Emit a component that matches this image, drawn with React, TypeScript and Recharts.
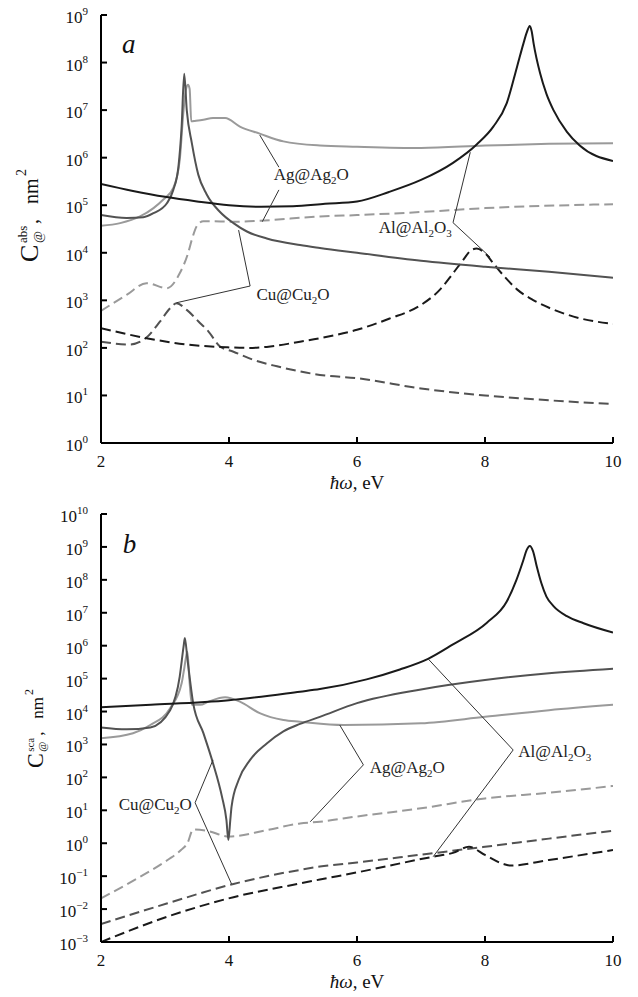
import React from 'react';
import { LineChart, Line, XAxis, YAxis, ReferenceLine, ReferenceDot } from 'recharts';

type P = { e: number; v: number };

// ---------- axis ticks ----------
const energyTicks = [2, 4, 6, 8, 10];
const innerEnergyTicks = [4, 6, 8];
const absTicks = [1e0, 1e1, 1e2, 1e3, 1e4, 1e5, 1e6, 1e7, 1e8, 1e9];
const scaTicks = [1e-3, 1e-2, 1e-1, 1e0, 1e1, 1e2, 1e3, 1e4, 1e5, 1e6, 1e7, 1e8, 1e9, 1e10];

// ---------- panel a : absorption ----------
const absAlSolid: P[] = [
  { e: 2.0, v: 2.8e5 }, { e: 2.5, v: 2.0e5 }, { e: 3.0, v: 1.5e5 }, { e: 3.5, v: 1.2e5 },
  { e: 4.0, v: 1.0e5 }, { e: 4.5, v: 9.3e4 }, { e: 5.0, v: 9.5e4 }, { e: 5.5, v: 1.07e5 },
  { e: 6.0, v: 1.2e5 }, { e: 6.5, v: 1.9e5 }, { e: 7.0, v: 3.4e5 }, { e: 7.5, v: 7.8e5 },
  { e: 7.87, v: 1.9e6 }, { e: 8.13, v: 4.5e6 }, { e: 8.34, v: 1.4e7 }, { e: 8.5, v: 8.1e7 },
  { e: 8.6, v: 2.5e8 }, { e: 8.65, v: 4.2e8 }, { e: 8.7, v: 5.9e8 }, { e: 8.73, v: 4.5e8 },
  { e: 8.76, v: 2.5e8 }, { e: 8.86, v: 6.0e7 }, { e: 8.96, v: 2.2e7 }, { e: 9.07, v: 1.0e7 },
  { e: 9.28, v: 3.5e6 }, { e: 9.48, v: 1.8e6 }, { e: 10.0, v: 8.5e5 },
];
const absCuSolid: P[] = [
  { e: 2.0, v: 6.2e4 }, { e: 2.4, v: 5.4e4 }, { e: 2.66, v: 5.6e4 }, { e: 2.82, v: 6.8e4 },
  { e: 3.03, v: 1.1e5 }, { e: 3.13, v: 2.1e5 }, { e: 3.21, v: 6.5e5 }, { e: 3.26, v: 4.5e6 },
  { e: 3.3, v: 5.8e7 }, { e: 3.34, v: 1.0e7 }, { e: 3.42, v: 2.0e6 }, { e: 3.52, v: 4.4e5 },
  { e: 3.65, v: 1.7e5 }, { e: 3.86, v: 7.2e4 }, { e: 4.07, v: 4.2e4 }, { e: 4.28, v: 2.8e4 },
  { e: 4.59, v: 2.0e4 }, { e: 5.11, v: 1.45e4 }, { e: 5.42, v: 1.26e4 }, { e: 6.0, v: 1.0e4 },
  { e: 7.0, v: 6.8e3 }, { e: 8.0, v: 5.1e3 }, { e: 9.0, v: 4.0e3 }, { e: 10.0, v: 3.0e3 },
];
const absAgSolid: P[] = [
  { e: 2.0, v: 3.7e4 }, { e: 2.3, v: 4.2e4 }, { e: 2.61, v: 5.8e4 }, { e: 2.82, v: 8.7e4 },
  { e: 2.97, v: 1.3e5 }, { e: 3.13, v: 2.3e5 }, { e: 3.23, v: 8.9e5 }, { e: 3.29, v: 1.0e7 },
  { e: 3.33, v: 2.8e7 }, { e: 3.36, v: 3.4e7 }, { e: 3.385, v: 2.8e7 }, { e: 3.41, v: 5.8e6 },
  { e: 3.45, v: 5.9e6 }, { e: 3.6, v: 6.3e6 }, { e: 3.75, v: 6.8e6 }, { e: 3.94, v: 6.8e6 },
  { e: 4.17, v: 4.5e6 }, { e: 4.48, v: 3.2e6 }, { e: 4.85, v: 2.2e6 }, { e: 5.42, v: 1.8e6 },
  { e: 6.0, v: 1.7e6 }, { e: 7.0, v: 1.6e6 }, { e: 8.0, v: 1.8e6 }, { e: 9.0, v: 1.95e6 },
  { e: 10.0, v: 2.0e6 },
];
const absAlDash: P[] = [
  { e: 2.0, v: 260 }, { e: 2.71, v: 160 }, { e: 3.33, v: 118 }, { e: 3.96, v: 103 },
  { e: 4.3, v: 100 }, { e: 4.59, v: 105 }, { e: 5.11, v: 135 }, { e: 5.42, v: 160 },
  { e: 6.0, v: 240 }, { e: 6.5, v: 410 }, { e: 7.0, v: 800 }, { e: 7.3, v: 1.7e3 },
  { e: 7.5, v: 3.7e3 }, { e: 7.66, v: 7.1e3 }, { e: 7.79, v: 1.15e4 }, { e: 7.87, v: 1.23e4 },
  { e: 8.0, v: 9.8e3 }, { e: 8.13, v: 6.0e3 }, { e: 8.3, v: 3.2e3 }, { e: 8.5, v: 1.7e3 },
  { e: 8.76, v: 1.0e3 }, { e: 9.02, v: 680 }, { e: 9.48, v: 420 }, { e: 10.0, v: 320 },
];
const absCuDash: P[] = [
  { e: 2.0, v: 135 }, { e: 2.45, v: 118 }, { e: 2.71, v: 165 }, { e: 2.92, v: 355 },
  { e: 3.08, v: 680 }, { e: 3.18, v: 870 }, { e: 3.34, v: 630 }, { e: 3.55, v: 330 },
  { e: 3.68, v: 220 }, { e: 3.86, v: 107 }, { e: 4.07, v: 83 }, { e: 4.38, v: 56 },
  { e: 4.75, v: 41 }, { e: 5.11, v: 32 }, { e: 5.42, v: 27 }, { e: 6.0, v: 23 },
  { e: 7.0, v: 14 }, { e: 8.0, v: 10 }, { e: 9.0, v: 7.9 }, { e: 10.0, v: 6.6 },
];
const absAgDash: P[] = [
  { e: 2.0, v: 600 }, { e: 2.4, v: 1.3e3 }, { e: 2.71, v: 2.3e3 }, { e: 3.03, v: 1.8e3 },
  { e: 3.23, v: 3.7e3 }, { e: 3.36, v: 9.8e3 }, { e: 3.42, v: 1.9e4 }, { e: 3.5, v: 3.7e4 },
  { e: 3.6, v: 4.6e4 }, { e: 4.14, v: 4.5e4 }, { e: 4.48, v: 4.7e4 }, { e: 5.42, v: 5.8e4 },
  { e: 6.0, v: 6.2e4 }, { e: 7.0, v: 7.2e4 }, { e: 8.0, v: 8.7e4 }, { e: 10.0, v: 1.05e5 },
];

// ---------- panel b : scattering ----------
const scaAlSolid: P[] = [
  { e: 2.0, v: 1.35e4 }, { e: 2.78, v: 1.6e4 }, { e: 4.0, v: 2.2e4 }, { e: 5.11, v: 4.0e4 },
  { e: 5.42, v: 4.8e4 }, { e: 6.15, v: 9.5e4 }, { e: 6.67, v: 1.9e5 }, { e: 7.11, v: 4.0e5 },
  { e: 7.5, v: 1.1e6 }, { e: 8.03, v: 5.0e6 }, { e: 8.34, v: 2.2e7 }, { e: 8.49, v: 9.8e7 },
  { e: 8.6, v: 4.0e8 }, { e: 8.65, v: 8.0e8 }, { e: 8.7, v: 1.07e9 }, { e: 8.75, v: 7.5e8 },
  { e: 8.81, v: 2.5e8 }, { e: 8.88, v: 8.0e7 }, { e: 8.96, v: 3.1e7 }, { e: 9.07, v: 1.6e7 },
  { e: 9.28, v: 7.9e6 }, { e: 9.54, v: 4.8e6 }, { e: 10.0, v: 2.5e6 },
];
const scaCuSolid: P[] = [
  { e: 2.0, v: 3.3e3 }, { e: 2.4, v: 2.9e3 }, { e: 2.77, v: 3.3e3 }, { e: 3.08, v: 1.1e4 },
  { e: 3.23, v: 1.15e5 }, { e: 3.29, v: 9.3e5 }, { e: 3.31, v: 1.7e6 }, { e: 3.35, v: 4.0e5 },
  { e: 3.44, v: 1.8e4 }, { e: 3.6, v: 2.2e3 }, { e: 3.75, v: 270 }, { e: 3.89, v: 26 },
  { e: 3.96, v: 5 }, { e: 3.99, v: 1.25 }, { e: 4.02, v: 5 }, { e: 4.04, v: 13 },
  { e: 4.15, v: 83 }, { e: 4.33, v: 340 }, { e: 4.59, v: 1.07e3 }, { e: 4.85, v: 2.5e3 },
  { e: 5.11, v: 4.2e3 }, { e: 5.42, v: 6.9e3 }, { e: 6.0, v: 1.8e4 }, { e: 7.0, v: 4.7e4 },
  { e: 8.0, v: 9.1e4 }, { e: 9.0, v: 1.45e5 }, { e: 10.0, v: 2.0e5 },
];
const scaAgSolid: P[] = [
  { e: 2.0, v: 1.55e3 }, { e: 2.5, v: 2.2e3 }, { e: 2.77, v: 3.9e3 }, { e: 3.08, v: 1.26e4 },
  { e: 3.26, v: 7.2e4 }, { e: 3.3, v: 2.0e5 }, { e: 3.35, v: 6.6e5 }, { e: 3.38, v: 1.0e5 },
  { e: 3.42, v: 1.6e4 }, { e: 3.55, v: 1.6e4 }, { e: 3.68, v: 2.0e4 }, { e: 3.94, v: 2.7e4 },
  { e: 4.17, v: 2.0e4 }, { e: 4.48, v: 8.9e3 }, { e: 4.85, v: 5.5e3 }, { e: 5.11, v: 4.9e3 },
  { e: 5.79, v: 3.9e3 }, { e: 7.0, v: 4.4e3 }, { e: 8.0, v: 6.9e3 }, { e: 9.0, v: 1.1e4 },
  { e: 10.0, v: 1.6e4 },
];
const scaAlDash: P[] = [
  { e: 2.0, v: 0.001 }, { e: 3.04, v: 0.0059 }, { e: 4.07, v: 0.023 }, { e: 5.11, v: 0.06 },
  { e: 5.42, v: 0.079 }, { e: 6.0, v: 0.13 }, { e: 7.0, v: 0.33 }, { e: 7.19, v: 0.39 },
  { e: 7.5, v: 0.51 }, { e: 7.75, v: 0.78 }, { e: 8.0, v: 0.44 }, { e: 8.3, v: 0.23 },
  { e: 8.4, v: 0.21 }, { e: 9.0, v: 0.31 }, { e: 10.0, v: 0.62 },
];
const scaCuDash: P[] = [
  { e: 2.0, v: 0.0035 }, { e: 3.04, v: 0.015 }, { e: 4.07, v: 0.058 }, { e: 5.11, v: 0.155 },
  { e: 5.42, v: 0.195 }, { e: 6.0, v: 0.26 }, { e: 7.0, v: 0.45 }, { e: 8.0, v: 0.78 },
  { e: 9.0, v: 1.38 }, { e: 10.0, v: 2.4 },
];
const scaAgDash: P[] = [
  { e: 2.0, v: 0.021 }, { e: 2.52, v: 0.076 }, { e: 3.04, v: 0.31 }, { e: 3.25, v: 0.62 },
  { e: 3.35, v: 1.0 }, { e: 3.44, v: 2.6 }, { e: 3.65, v: 2.4 }, { e: 4.0, v: 1.6 },
  { e: 4.59, v: 2.5 }, { e: 5.11, v: 4.0 }, { e: 5.42, v: 4.5 }, { e: 6.0, v: 6.5 },
  { e: 7.0, v: 11.5 }, { e: 8.0, v: 23 }, { e: 9.0, v: 34 }, { e: 10.0, v: 55 },
];

// ---------- annotations (data coordinates) ----------
type Anno = { text: string; e: number; v: number; anchor: 'start' | 'end'; lines: P[][] };
const absAnnotations: Anno[] = [
  { text: 'Ag@Ag_2O', e: 4.7, v: 3.4e5, anchor: 'start',
    lines: [[{ e: 4.48, v: 3.0e6 }, { e: 4.78, v: 6.3e5 }], [{ e: 4.52, v: 4.5e4 }, { e: 4.78, v: 2.1e5 }]] },
  { text: 'Al@Al_2O_3', e: 7.48, v: 2.6e4, anchor: 'end',
    lines: [[{ e: 7.77, v: 1.3e6 }, { e: 7.5, v: 4.3e4 }], [{ e: 7.5, v: 4.3e4 }, { e: 8.08, v: 8.1e3 }]] },
  { text: 'Cu@Cu_2O', e: 4.43, v: 1.0e3, anchor: 'start',
    lines: [[{ e: 4.15, v: 3.0e4 }, { e: 4.33, v: 2.0e3 }], [{ e: 4.33, v: 2.0e3 }, { e: 3.18, v: 890 }]] },
];
const scaAnnotations: Anno[] = [
  { text: 'Cu@Cu_2O', e: 3.42, v: 10, anchor: 'end',
    lines: [[{ e: 3.47, v: 17 }, { e: 3.75, v: 340 }], [{ e: 3.47, v: 17 }, { e: 4.04, v: 0.058 }]] },
  { text: 'Ag@Ag_2O', e: 6.2, v: 135, anchor: 'start',
    lines: [[{ e: 6.1, v: 240 }, { e: 5.73, v: 3.9e3 }], [{ e: 6.1, v: 240 }, { e: 5.27, v: 4.5 }]] },
  { text: 'Al@Al_2O_3', e: 8.52, v: 430, anchor: 'start',
    lines: [[{ e: 8.44, v: 680 }, { e: 7.11, v: 4.0e5 }], [{ e: 8.44, v: 680 }, { e: 7.19, v: 0.39 }]] },
];
const absTag = { text: 'a', e: 2.33, v: 1.6e8 };
const scaTag = { text: 'b', e: 2.34, v: 6.6e8 };

// ---------- styles ----------
const FONT = '"Liberation Serif", "Times New Roman", serif';
const AL = '#1a1a1a';
const CU = '#525252';
const AG = '#9a9a9a';
const DASH = '10 5';

type Series = { data: P[]; color: string; dashed?: boolean };
const absSeries: Series[] = [
  { data: absAgDash, color: AG, dashed: true },
  { data: absCuDash, color: CU, dashed: true },
  { data: absAlDash, color: AL, dashed: true },
  { data: absAgSolid, color: AG },
  { data: absCuSolid, color: CU },
  { data: absAlSolid, color: AL },
];
const scaSeries: Series[] = [
  { data: scaAgDash, color: AG, dashed: true },
  { data: scaCuDash, color: CU, dashed: true },
  { data: scaAlDash, color: AL, dashed: true },
  { data: scaAgSolid, color: AG },
  { data: scaCuSolid, color: CU },
  { data: scaAlSolid, color: AL },
];

const PowTick = (props: any) => {
  const { x, y, payload } = props;
  const exp = Math.round(Math.log10(payload.value));
  const expText = exp < 0 ? '\u2212' + Math.abs(exp) : String(exp);
  return (
    <text x={x} y={y + 8} textAnchor="end" fontFamily={FONT} fontSize={17} fill="#111">
      <tspan>10</tspan>
      <tspan fontSize={11} dy={-8}>{expText}</tspan>
    </text>
  );
};

const XTick = (props: any) => {
  const { x, y, payload } = props;
  return (
    <text x={x} y={y + 11} textAnchor="middle" fontFamily={FONT} fontSize={17} fill="#111">
      {payload.value}
    </text>
  );
};

const RichText = ({ x, y, text, anchor }: { x: number; y: number; text: string; anchor: string }) => {
  const parts: { s: string; sub: boolean }[] = [];
  let i = 0;
  while (i < text.length) {
    if (text[i] === '_') {
      parts.push({ s: text[i + 1], sub: true });
      i += 2;
    } else {
      let j = i;
      while (j < text.length && text[j] !== '_') j++;
      parts.push({ s: text.slice(i, j), sub: false });
      i = j;
    }
  }
  let prevSub = false;
  return (
    <text x={x} y={y} textAnchor={anchor as any} fontFamily={FONT} fontSize={17} fill="#222">
      {parts.map((p, k) => {
        const dy = p.sub && !prevSub ? 4 : !p.sub && prevSub ? -4 : 0;
        prevSub = p.sub;
        return (
          <tspan key={k} dy={dy} fontSize={p.sub ? 11 : 17}>{p.s}</tspan>
        );
      })}
    </text>
  );
};

const YTitle = ({ vb, sup, dx, dy, s }: any) => {
  const cx = vb.x + dx;
  const cy = vb.y + vb.height / 2 + dy;
  return (
    <g transform={`translate(${cx},${cy}) rotate(-90)`} fontFamily={FONT} fill="#111">
      <text x={0} y={0} fontSize={26 * s}>C</text>
      <text x={19 * s} y={-11 * s} fontSize={13 * s}>{sup}</text>
      <text x={19 * s} y={4 * s} fontSize={13 * s}>@</text>
      <text x={38 * s} y={0} fontSize={20 * s}>,</text>
      <text x={58 * s} y={0} fontSize={20 * s}>nm</text>
      <text x={86 * s} y={-12 * s} fontSize={14 * s}>2</text>
    </g>
  );
};

const XTitle = ({ vb }: any) => (
  <text x={vb.x + vb.width / 2} y={vb.y + 46} textAnchor="middle" fontFamily={FONT} fontSize={19} fill="#111">
    <tspan fontStyle="italic">ħω</tspan>
    <tspan>, eV</tspan>
  </text>
);

type PanelProps = {
  height: number;
  margin: { top: number; right: number; bottom: number; left: number };
  yTicks: number[];
  series: Series[];
  annotations: Anno[];
  tag: { text: string; e: number; v: number };
  sup: string;
  title: { dx: number; dy: number; s: number };
};

const Panel = ({ height, margin, yTicks, series, annotations, tag, sup, title }: PanelProps) => {
  const yDomain = [yTicks[0], yTicks[yTicks.length - 1]];
  const axisStroke = { stroke: '#000', strokeWidth: 2 };
  return (
    <LineChart width={622} height={height} margin={margin}>
      <XAxis
        xAxisId={0}
        dataKey="e"
        type="number"
        domain={[2, 10]}
        ticks={energyTicks}
        allowDataOverflow
        height={40}
        tickSize={-6}
        tickMargin={19}
        tick={<XTick />}
        tickLine={axisStroke}
        axisLine={axisStroke}
        label={{ content: (p: any) => <XTitle vb={p.viewBox} /> }}
      />
      <XAxis
        xAxisId="top"
        orientation="top"
        mirror
        dataKey="e"
        type="number"
        domain={[2, 10]}
        ticks={innerEnergyTicks}
        allowDataOverflow
        height={0}
        tickSize={6}
        tick={false}
        tickLine={axisStroke}
        axisLine={axisStroke}
      />
      <YAxis
        yAxisId={0}
        type="number"
        scale="log"
        domain={yDomain}
        ticks={yTicks}
        allowDataOverflow
        width={70}
        tickSize={-6}
        tickMargin={19}
        tick={<PowTick />}
        tickLine={axisStroke}
        axisLine={axisStroke}
        label={{ content: (p: any) => <YTitle vb={p.viewBox} sup={sup} {...title} /> }}
      />
      <YAxis
        yAxisId="right"
        orientation="right"
        mirror
        type="number"
        scale="log"
        domain={yDomain}
        ticks={yTicks}
        allowDataOverflow
        width={0}
        tickSize={6}
        tick={false}
        tickLine={axisStroke}
        axisLine={axisStroke}
      />
      {series.map((s, k) => (
        <Line
          key={k}
          data={s.data}
          dataKey="v"
          xAxisId={0}
          yAxisId={0}
          type="monotone"
          stroke={s.color}
          strokeWidth={2}
          strokeDasharray={s.dashed ? DASH : undefined}
          dot={false}
          activeDot={false}
          isAnimationActive={false}
        />
      ))}
      {annotations.map((a, k) =>
        a.lines.map((ln, j) => (
          <ReferenceLine
            key={`l${k}-${j}`}
            xAxisId={0}
            yAxisId={0}
            segment={[{ x: ln[0].e, y: ln[0].v }, { x: ln[1].e, y: ln[1].v }]}
            stroke="#333"
            strokeWidth={1}
          />
        ))
      )}
      {annotations.map((a, k) => (
        <ReferenceDot
          key={`t${k}`}
          xAxisId={0}
          yAxisId={0}
          x={a.e}
          y={a.v}
          r={0}
          shape={(p: any) => <RichText x={p.cx} y={p.cy} text={a.text} anchor={a.anchor} />}
        />
      ))}
      <ReferenceDot
        xAxisId={0}
        yAxisId={0}
        x={tag.e}
        y={tag.v}
        r={0}
        shape={(p: any) => (
          <text x={p.cx} y={p.cy} fontFamily={FONT} fontStyle="italic" fontSize={27} fill="#111">
            {tag.text}
          </text>
        )}
      />
    </LineChart>
  );
};

export default function App() {
  return (
    <div style={{ position: 'relative', top: -8, width: 622, height: 997, background: '#fff' }}>
      <div style={{ position: 'absolute', left: 0, top: 0 }}>
        <Panel
          height={505}
          margin={{ top: 15, right: 17, bottom: 22, left: 23 }}
          yTicks={absTicks}
          series={absSeries}
          annotations={absAnnotations}
          tag={absTag}
          sup="abs"
          title={{ dx: 7, dy: 33, s: 1 }}
        />
      </div>
      <div style={{ position: 'absolute', left: 0, top: 505 }}>
        <Panel
          height={492}
          margin={{ top: 9, right: 17, bottom: 15, left: 23 }}
          yTicks={scaTicks}
          series={scaSeries}
          annotations={scaAnnotations}
          tag={scaTag}
          sup="sca"
          title={{ dx: 12, dy: 40, s: 0.85 }}
        />
      </div>
    </div>
  );
}
